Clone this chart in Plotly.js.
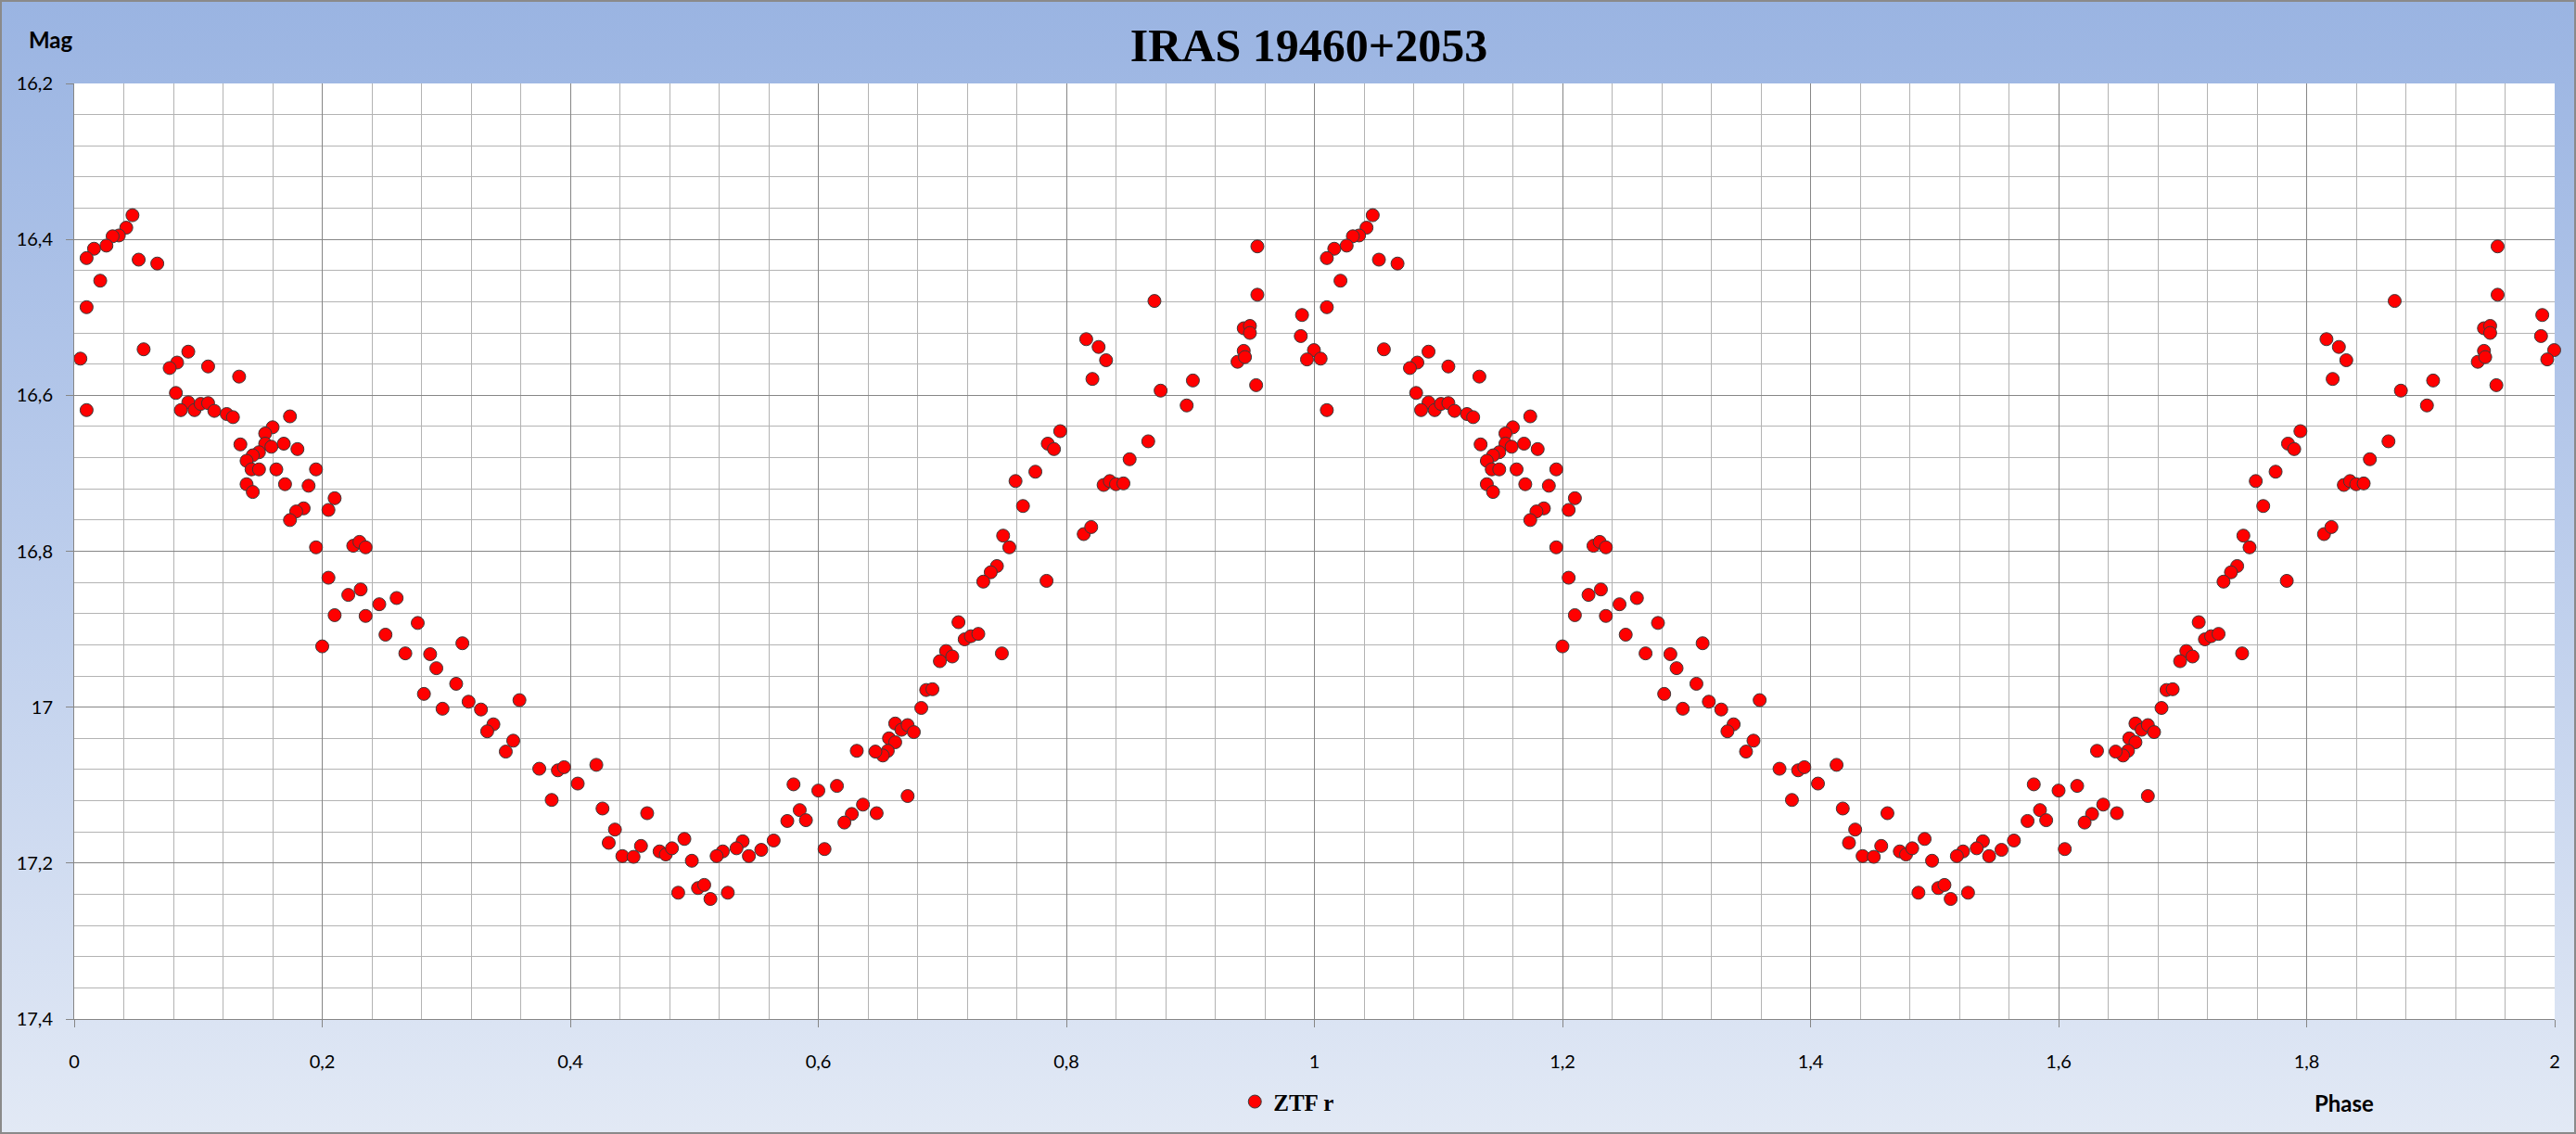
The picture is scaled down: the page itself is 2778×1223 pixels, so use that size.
<!DOCTYPE html>
<html>
<head>
<meta charset="utf-8">
<script src="https://cdn.plot.ly/plotly-3.0.1.min.js"></script>
<style>
  html, body { margin: 0; padding: 0; }
  #wrap { position: relative; width: 2778px; height: 1223px;
          background: linear-gradient(to bottom, #9AB4E2 0%, #B9CBEB 45%, #E2E9F5 100%); }
  #plot { position: absolute; left: 0; top: 0; width: 2778px; height: 1223px; }
  #frame { position: absolute; left: 0; top: 0; width: 2778px; height: 1223px;
           box-sizing: border-box; border: 2px solid #8a8a8a; pointer-events: none; }
</style>
</head>
<body>
<div id="wrap"><div id="plot"></div><div id="frame"></div></div>
<script>
// ZTF r light curve of IRAS 19460+2053, phase 0..1 (plotted twice, 0..2)
const phase = [
  0.047,0.042,0.036,0.031,0.026,0.016,0.010,0.052,0.067,0.021,
  0.010,0.056,0.005,0.092,0.083,0.077,0.108,0.133,0.082,0.010,
  0.092,0.086,0.097,0.102,0.108,0.113,0.123,0.128,0.174,0.160,
  0.154,0.154,0.159,0.169,0.180,0.134,0.149,0.144,0.139,0.143,
  0.149,0.163,0.195,0.139,0.144,0.170,0.189,0.210,0.205,0.185,
  0.179,0.174,0.195,0.225,0.230,0.235,0.205,0.221,0.231,0.246,
  0.260,0.210,0.235,0.251,0.200,
  0.277,0.267,0.287,0.313,0.292,0.308,0.282,0.297,0.318,0.328,
  0.359,0.338,0.333,0.354,0.348,0.375,0.390,0.395,0.421,0.406,
  0.385,0.426,0.436,0.431,0.462,0.457,0.442,0.451,0.472,0.477,
  0.482,0.492,0.498,0.487,0.503,0.508,0.513,
  0.749,0.754,0.744,0.739,0.733,0.713,0.718,0.723,0.729,0.748,
  0.703,0.698,0.708,0.687,0.692,0.683,0.662,0.667,0.672,0.677,
  0.657,0.662,0.656,0.652,0.646,0.631,0.580,0.600,0.615,0.672,
  0.585,0.590,0.575,0.636,0.627,0.621,0.647,0.564,0.554,0.539,
  0.534,0.523,0.518,0.544,0.605,0.527,
  0.954,0.954,0.871,0.990,0.943,0.948,0.948,0.989,0.9996,0.943,
  0.938,0.944,0.994,0.953,0.816,0.826,0.832,0.821,0.876,0.902,
  0.897,0.866,0.795,0.785,0.790,0.851,0.775,0.759,0.830,0.835,
  0.840,0.846,0.765,0.814,0.820,0.784
];
const mag = [
  16.369,16.385,16.395,16.396,16.408,16.412,16.424,16.426,16.431,16.453,
  16.487,16.541,16.553,16.544,16.558,16.565,16.563,16.576,16.597,16.619,
  16.609,16.619,16.619,16.611,16.610,16.620,16.624,16.628,16.627,16.641,
  16.649,16.662,16.666,16.662,16.669,16.663,16.673,16.677,16.684,16.695,
  16.695,16.695,16.695,16.714,16.724,16.714,16.716,16.732,16.747,16.745,
  16.749,16.760,16.795,16.793,16.788,16.795,16.834,16.856,16.849,16.868,
  16.860,16.882,16.883,16.907,16.922,
  16.892,16.931,16.932,16.918,16.950,16.970,16.983,17.002,16.993,17.003,
  16.991,17.022,17.031,17.043,17.057,17.079,17.081,17.077,17.074,17.098,
  17.119,17.130,17.157,17.174,17.136,17.178,17.191,17.192,17.185,17.189,
  17.181,17.169,17.197,17.238,17.232,17.228,17.246,
  16.780,16.795,16.819,16.827,16.839,16.891,16.913,16.909,16.906,16.931,
  16.928,16.941,16.935,16.978,16.977,17.001,17.021,17.029,17.023,17.032,
  17.040,17.045,17.056,17.062,17.057,17.056,17.099,17.107,17.101,17.114,
  17.132,17.145,17.146,17.125,17.137,17.148,17.136,17.171,17.183,17.172,
  17.181,17.185,17.191,17.191,17.182,17.238,
  16.409,16.471,16.479,16.497,16.514,16.511,16.520,16.524,16.542,16.543,
  16.557,16.551,16.554,16.587,16.528,16.538,16.555,16.579,16.594,16.581,
  16.613,16.659,16.646,16.662,16.669,16.682,16.698,16.710,16.715,16.710,
  16.714,16.713,16.742,16.778,16.769,16.838
];
const seriesName = 'ZTF r';
const titleText = 'IRAS 19460+2053';
const xTitle = 'Phase';
const yTitle = 'Mag';

const xs = phase.concat(phase.map(p => p + 1));
const ys = mag.concat(mag);

const trace = {
  type: 'scatter', mode: 'markers', name: seriesName,
  x: xs, y: ys, cliponaxis: false,
  marker: { color: '#FF0000', size: 14, line: { color: '#3a3a3a', width: 1 } }
};

const tickFont = { family: 'Lato, "Open Sans", sans-serif', size: 20, color: '#000' };
const majorGrid = '#868686', minorGrid = '#b3b3b3';
const layout = {
  width: 2778, height: 1223,
  paper_bgcolor: 'rgba(0,0,0,0)', plot_bgcolor: '#FFFFFF',
  margin: { l: 80, r: 23, t: 90, b: 116 },
  separators: ', ',
  showlegend: true,
  title: { text: titleText, x: 0.4978, xref: 'paper', xanchor: 'center',
           y: 0.960, yref: 'container', yanchor: 'middle',
           font: { family: '"Liberation Serif", "DejaVu Serif", serif', size: 50, weight: 'bold', color: '#000' } },
  xaxis: {
    range: [0, 2], dtick: 0.2, tick0: 0,
    showgrid: true, gridcolor: majorGrid, gridwidth: 1,
    minor: { dtick: 0.04, showgrid: true, gridcolor: minorGrid, gridwidth: 1 },
    showline: true, linecolor: majorGrid, linewidth: 1,
    ticks: 'outside', ticklen: 8, tickcolor: majorGrid, tickwidth: 1,
    ticklabelstandoff: 20, tickfont: tickFont, zeroline: false
  },
  yaxis: {
    range: [17.4, 16.2], dtick: 0.2, tick0: 16.2,
    showgrid: true, gridcolor: majorGrid, gridwidth: 1,
    minor: { dtick: 0.04, showgrid: true, gridcolor: minorGrid, gridwidth: 1 },
    showline: true, linecolor: majorGrid, linewidth: 1,
    ticks: 'outside', ticklen: 8, tickcolor: majorGrid, tickwidth: 1,
    ticklabelstandoff: 10, tickfont: tickFont, zeroline: false
  },
  legend: { x: 0.4685, xanchor: 'left', y: -0.0885, yanchor: 'middle', orientation: 'h',
            bgcolor: 'rgba(0,0,0,0)', itemwidth: 30,
            font: { family: '"Liberation Serif", "DejaVu Serif", serif', size: 25, weight: 'bold', color: '#000' } },
  annotations: [
    { text: yTitle, xref: 'paper', yref: 'paper', x: -0.0094, y: 1.0472,
      xanchor: 'center', yanchor: 'middle', showarrow: false,
      font: { family: 'Lato, "Open Sans", sans-serif', size: 24, weight: 'bold', color: '#000' } },
    { text: xTitle, xref: 'paper', yref: 'paper', x: 0.9151, y: -0.0895,
      xanchor: 'center', yanchor: 'middle', showarrow: false,
      font: { family: 'Lato, "Open Sans", sans-serif', size: 24, weight: 'bold', color: '#000' } }
  ]
};

Plotly.newPlot('plot', [trace], layout, { displayModeBar: false, staticPlot: true });
</script>
</body>
</html>
